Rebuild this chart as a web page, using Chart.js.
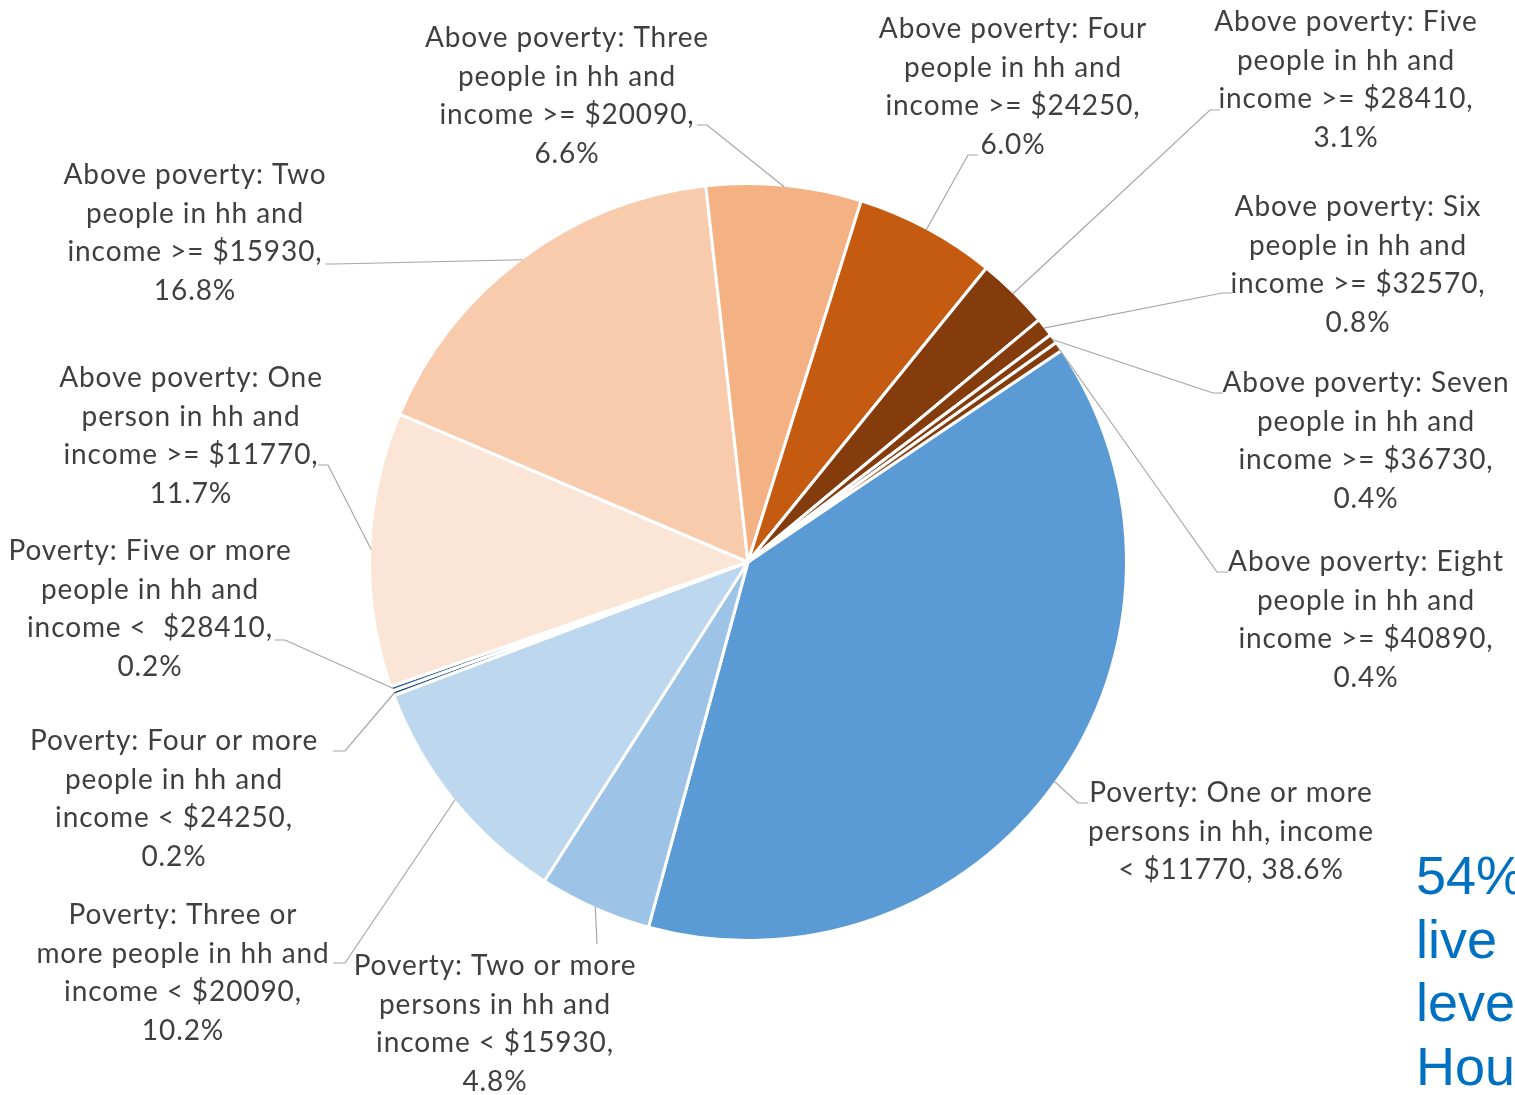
<!DOCTYPE html>
<html>
<head>
<meta charset="utf-8">
<script src="https://cdn.jsdelivr.net/npm/chart.js@4/dist/chart.umd.min.js"></script>
<style>
  html, body { margin: 0; padding: 0; background: #ffffff; overflow: hidden; }
  #wrap { position: relative; width: 1515px; height: 1095px; }
</style>
</head>
<body>
<div id="wrap"><canvas id="pie" width="1515" height="1095"></canvas></div>
<script>
// Household income groups relative to the poverty line (share of households, %)
const categories = [
  ['Poverty: One or more', 'persons in hh, income', '< $11770'],
  ['Poverty: Two or more', 'persons in hh and', 'income < $15930'],
  ['Poverty: Three or', 'more people in hh and', 'income < $20090'],
  ['Poverty: Four or more', 'people in hh and', 'income < $24250'],
  ['Poverty: Five or more', 'people in hh and', 'income <  $28410'],
  ['Above poverty: One', 'person in hh and', 'income >= $11770'],
  ['Above poverty: Two', 'people in hh and', 'income >= $15930'],
  ['Above poverty: Three', 'people in hh and', 'income >= $20090'],
  ['Above poverty: Four', 'people in hh and', 'income >= $24250'],
  ['Above poverty: Five', 'people in hh and', 'income >= $28410'],
  ['Above poverty: Six', 'people in hh and', 'income >= $32570'],
  ['Above poverty: Seven', 'people in hh and', 'income >= $36730'],
  ['Above poverty: Eight', 'people in hh and', 'income >= $40890']
];
const shares = [38.6, 4.8, 10.2, 0.2, 0.2, 11.7, 16.8, 6.6, 6.0, 3.1, 0.8, 0.4, 0.4];
const sliceColors = [
  '#5B9BD5', '#9DC3E6', '#BDD7EE', '#1F4E79', '#2E5C8A',
  '#FBE5D6', '#F8CBAD', '#F4B183', '#C55A11', '#843C0C',
  '#843C0C', '#843C0C', '#843C0C'
];
const calloutLines = ['54% of', 'live in', 'level', 'Houston'];

// Label placement: text block centre (cx), first line centre (cy),
// where the leader line meets the label (ax, ay) and its elbow (ex, ey).
const labelLayout = [
  { cx: 1231, cy: 793, ax: 1088, ay: 803, ex: 1078, ey: 803, join: true },
  { cx: 495,  cy: 966, ax: 597,  ay: 944, ex: 597,  ey: 944 },
  { cx: 183,  cy: 915, ax: 333,  ay: 963, ex: 345,  ey: 963 },
  { cx: 174,  cy: 741, ax: 333,  ay: 751, ex: 345,  ey: 751 },
  { cx: 150,  cy: 551, ax: 275,  ay: 640, ex: 285,  ey: 640 },
  { cx: 191,  cy: 378, ax: 318,  ay: 465, ex: 328,  ey: 465 },
  { cx: 195,  cy: 175, ax: 325,  ay: 264, ex: 335,  ey: 264 },
  { cx: 567,  cy: 38,  ax: 697,  ay: 125, ex: 707,  ey: 125 },
  { cx: 1013, cy: 29,  ax: 978,  ay: 155, ex: 968,  ey: 155 },
  { cx: 1346, cy: 22,  ax: 1220, ay: 110, ex: 1210, ey: 110 },
  { cx: 1358, cy: 207, ax: 1232, ay: 293, ex: 1222, ey: 293 },
  { cx: 1366, cy: 383, ax: 1223, ay: 393, ex: 1213, ey: 393 },
  { cx: 1366, cy: 562, ax: 1228, ay: 572, ex: 1217, ey: 572 }
];

const LABEL_FONT = '28px Lato';
const LABEL_SPACING = '0.9px';
const LINE_GAP = 38.7;

const labelPlugin = {
  id: 'sliceLabels',
  afterDatasetsDraw(chart) {
    const ctx = chart.ctx;
    const meta = chart.getDatasetMeta(0);
    ctx.save();
    // leader lines from each slice's outer edge midpoint
    ctx.strokeStyle = '#A6A6A6';
    ctx.lineWidth = 1.2;
    meta.data.forEach((arc, i) => {
      const p = arc.getProps(['x', 'y', 'startAngle', 'endAngle', 'outerRadius'], true);
      const mid = (p.startAngle + p.endAngle) / 2;
      const r = p.outerRadius - 1.5;
      const sx = p.x + Math.cos(mid) * r;
      const sy = p.y + Math.sin(mid) * r;
      const L = labelLayout[i];
      ctx.beginPath();
      ctx.moveTo(sx, sy);
      ctx.lineTo(L.ex, L.ey);
      ctx.lineTo(L.ax, L.ay);
      ctx.stroke();
    });
    // label text
    ctx.fillStyle = '#3F3F3F';
    ctx.font = LABEL_FONT;
    if ('letterSpacing' in ctx) ctx.letterSpacing = LABEL_SPACING;
    ctx.textAlign = 'center';
    ctx.textBaseline = 'middle';
    categories.forEach((lines, i) => {
      const L = labelLayout[i];
      const pct = shares[i].toFixed(1) + '%';
      const out = lines.slice();
      if (L.join) {
        out[out.length - 1] = out[out.length - 1] + ', ' + pct;
      } else {
        out[out.length - 1] = out[out.length - 1] + ',';
        out.push(pct);
      }
      out.forEach((t, k) => ctx.fillText(t, L.cx, L.cy + k * LINE_GAP));
    });
    // side callout text
    if ('letterSpacing' in ctx) ctx.letterSpacing = '0px';
    ctx.fillStyle = '#0070C0';
    ctx.font = '54px "Liberation Sans"';
    ctx.textAlign = 'left';
    ctx.textBaseline = 'alphabetic';
    calloutLines.forEach((t, k) => ctx.fillText(t, 1416, 894 + k * 63.5));
    ctx.restore();
  }
};

new Chart(document.getElementById('pie'), {
  type: 'pie',
  data: {
    labels: categories.map(l => l.join(' ')),
    datasets: [{
      data: shares,
      backgroundColor: sliceColors,
      borderColor: '#ffffff',
      borderWidth: 3
    }]
  },
  options: {
    responsive: false,
    animation: false,
    rotation: 56,
    layout: { padding: { left: 368, top: 182, right: 387, bottom: 153 } },
    plugins: {
      legend: { display: false },
      tooltip: { enabled: false }
    }
  },
  plugins: [labelPlugin]
});
</script>
</body>
</html>
